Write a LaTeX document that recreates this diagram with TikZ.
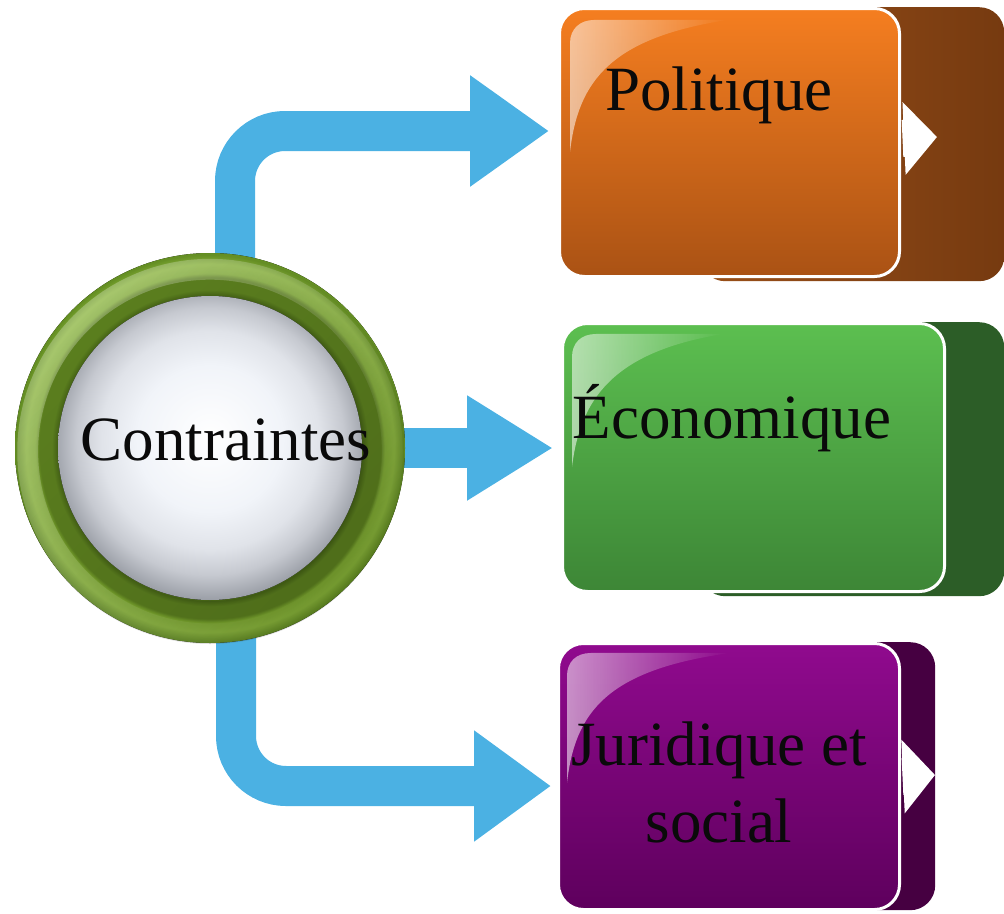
\documentclass[tikz,border=0pt]{standalone}
\usepackage{fontspec}
\setmainfont{Liberation Serif}
\usetikzlibrary{arrows.meta,fadings,shadings}

\definecolor{arrowblue}{HTML}{4BB1E3}
\definecolor{txt}{HTML}{0A0A0A}
\definecolor{ringdark}{HTML}{425F14}
\definecolor{ringmid}{HTML}{5C801F}
\definecolor{ringlight}{HTML}{7DA92F}
\definecolor{ringlight2}{HTML}{88B438}
\definecolor{ringedge}{HTML}{628C22}
\definecolor{ballmid}{HTML}{F1F4F9}
\definecolor{ballgray}{HTML}{E0E3E9}
\definecolor{ballgray2}{HTML}{C6C9D0}
\definecolor{balledge}{HTML}{9A9EA6}
\definecolor{orTop}{HTML}{F57E20}
\definecolor{orBot}{HTML}{AA5214}
\definecolor{brL}{HTML}{9A5019}
\definecolor{brR}{HTML}{763A10}
\definecolor{grTop}{HTML}{5CBF50}
\definecolor{grBot}{HTML}{3D8636}
\definecolor{dkgreen}{HTML}{2C5D27}
\definecolor{puTop}{HTML}{900A8E}
\definecolor{puBot}{HTML}{5E005D}
\definecolor{dkpurple}{HTML}{460041}

\pgfdeclareradialshading{greenring}{\pgfpoint{0bp}{0bp}}{%
  color(0bp)=(ringdark); color(19.4bp)=(ringdark); color(20.3bp)=(ringmid);
  color(21.9bp)=(ringmid); color(22.4bp)=(ringlight); color(23.6bp)=(ringlight2);
  color(25bp)=(ringedge); color(50bp)=(ringedge)}
\pgfdeclareradialshading{whiteball}{\pgfpoint{0bp}{2bp}}{%
  color(0bp)=(white); color(12bp)=(ballmid); color(18bp)=(ballgray);
  color(22bp)=(ballgray2); color(26bp)=(balledge); color(50bp)=(balledge)}

\newcommand\dgfont{\fontsize{63pt}{77pt}\selectfont}

\tikzset{
  blockarrow/.style={draw=arrowblue, line width=40pt, rounded corners=50pt},
  backbox/.style={rectangle, rounded corners=25pt, anchor=north west, inner sep=0pt},
  frontbox/.style={rectangle, rounded corners=25pt, anchor=north west, inner sep=0pt,
    draw=white, line width=3pt},
  whitearrow/.style={draw=white, line width=37pt},
  gloss/.style={fill=white, fill opacity=0.55, path fading=east},
  label/.style={font=\dgfont, text=txt, inner sep=0pt, anchor=base},
}

\begin{document}
\begin{tikzpicture}[x=1pt, y=-1pt]
\useasboundingbox (0,0) rectangle (1004,913);

% ---- back boxes
\node[backbox, minimum width=304pt, minimum height=274pt, left color=brL, right color=brR] (pb) at (700,7) {};
\node[backbox, minimum width=304pt, minimum height=274pt, fill=dkgreen] (eb) at (700,322) {};
\node[backbox, minimum width=235pt, minimum height=268pt, fill=dkpurple] (jb) at (700,642) {};

% ---- front boxes
\node[frontbox, minimum width=340pt, minimum height=268pt, top color=orTop, bottom color=orBot] (p) at (558,7) {};
\node[frontbox, minimum width=382pt, minimum height=268pt, top color=grTop, bottom color=grBot] (e) at (561,322) {};
\node[frontbox, minimum width=341pt, minimum height=266pt, top color=puTop, bottom color=puBot] (j) at (557,642) {};

% ---- white arrows in back boxes
\coordinate (pa) at (937,137);
\coordinate (ja) at (935,775);
\draw[whitearrow, -{Triangle[length=33pt,width=71pt]}] ([xshift=1.5pt,yshift=4pt]p.east) -- (pa);
\draw[whitearrow, -{Triangle[length=32pt,width=72pt]}] ([xshift=1.5pt]j.east) -- (ja);

% ---- gloss highlights
\fill[gloss] (570,152) .. controls (578,80) and (612,38) .. (727,20) -- (594,20) .. controls (580,20) and (570,29) .. (570,43) -- cycle;
\fill[gloss] (572,467) .. controls (580,400) and (612,352) .. (723,334) -- (596,334) .. controls (581,334) and (572,343) .. (572,357) -- cycle;
\fill[gloss] (567,783) .. controls (575,712) and (607,670) .. (730,653) -- (591,653) .. controls (576,653) and (567,662) .. (567,676) -- cycle;

% ---- box texts
\node[label] (pt) at (719,110) {Politique};
\node[label] (et) at (732,438) {Économique};
\node[label, align=center] (jt) at (719,842) {Juridique et\\social};

% ---- blue connectors
\coordinate (tp) at (549,131);
\coordinate (tm) at (553,448);
\coordinate (tb) at (551,786);
\node[circle, minimum size=390pt, inner sep=0pt] (c) at (210,448) {};
\draw[blockarrow, -{Triangle[length=79pt,width=106pt]}] ([xshift=25pt]c.center) |- (tp);
\draw[blockarrow, -{Triangle[length=86pt,width=99pt]}] (c.center) -- (tm);
\draw[blockarrow, -{Triangle[length=77pt,width=106pt]}] ([xshift=26pt]c.center) |- (tb);

% ---- central circle
\fill[shading=greenring] (c.center) circle (195);
% light highlight on the upper left of the outer band
\fill[white, fill opacity=0.28, path fading=south, fading angle=45, even odd rule]
  (c.center) circle (194) (c.center) circle (173);
% shade on the lower right of the outer band
\fill[black, fill opacity=0.15, path fading=north, fading angle=45, even odd rule]
  (c.center) circle (195) (c.center) circle (152);
\fill[shading=whiteball] (c.center) circle (152);
\node[label] (ct) at (226,460) {Contraintes};
\end{tikzpicture}
\end{document}
